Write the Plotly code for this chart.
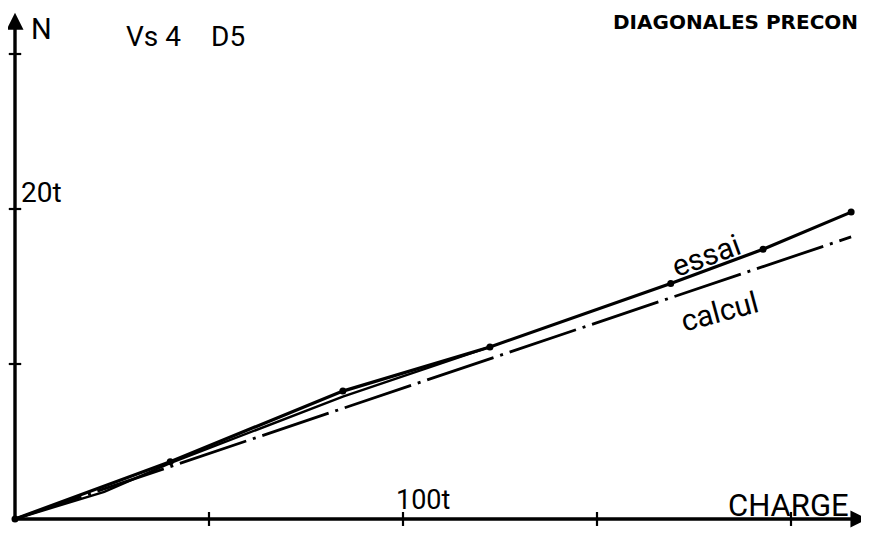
import plotly.graph_objects as go

# Data (charge in t, N in t)
essai_charge = [0, 40, 84.5, 122.4, 169, 192.8, 215.5]
essai_n = [0, 3.7, 8.25, 11.1, 15.2, 17.4, 19.8]
essai2_charge = [0, 23, 40, 84.5, 122.4]
essai2_n = [0, 1.75, 3.6, 7.9, 11.1]
calcul_charge = [0, 215.5]
calcul_n = [0, 18.2]
x_ticks = [50, 100, 150, 200]
y_ticks = [10, 20, 30]

# page body has an 8px margin: figure is drawn from window pixel (8, 8)
W, H = 861, 525
OFF = 8
X0_WIN, Y0_WIN = 15, 519          # origin in window pixels
PX_PER_T_X, PX_PER_T_Y = 3.88, 15.5
XMIN = -(X0_WIN - OFF) / PX_PER_T_X
XMAX = (W - (X0_WIN - OFF)) / PX_PER_T_X
YMAX = (Y0_WIN - OFF) / PX_PER_T_Y
YMIN = -(H - (Y0_WIN - OFF)) / PX_PER_T_Y
FONT = "Roboto, Liberation Sans, sans-serif"

fig = go.Figure()
fig.add_trace(go.Scatter(x=calcul_charge, y=calcul_n, mode="lines",
                         line=dict(color="black", width=2.8, dash="70px,7px,3px,7px"),
                         showlegend=False, hoverinfo="skip"))
fig.add_trace(go.Scatter(x=essai2_charge, y=essai2_n, mode="lines",
                         line=dict(color="black", width=2.4),
                         showlegend=False, hoverinfo="skip"))
fig.add_trace(go.Scatter(x=essai_charge, y=essai_n, mode="lines+markers",
                         line=dict(color="black", width=3.2),
                         marker=dict(color="black", size=7),
                         showlegend=False, hoverinfo="skip"))

shapes = []
for v in x_ticks:
    shapes.append(dict(type="line", xref="x", yref="y", x0=v, x1=v, y0=-0.45, y1=0.45,
                       line=dict(color="black", width=2.2)))
for v in y_ticks:
    shapes.append(dict(type="line", xref="x", yref="y", x0=-1.6, x1=1.6, y0=v, y1=v,
                       line=dict(color="black", width=2.2)))

annotations = [
    dict(x=0, y=YMAX - 0.3, ax=0, ay=0, xref="x", yref="y", axref="x", ayref="y",
         showarrow=True, arrowhead=2, arrowsize=1, arrowwidth=3.4, arrowcolor="black", text=""),
    dict(x=XMAX - 0.4, y=0, ax=0, ay=0, xref="x", yref="y", axref="x", ayref="y",
         showarrow=True, arrowhead=2, arrowsize=1, arrowwidth=3.4, arrowcolor="black", text=""),
]


def txt(s, px, py, size, angle=0, bold=False, xanchor="center", family=FONT, yanchor="middle"):
    return dict(x=(px - OFF) / W, y=1 - (py - OFF) / H, xref="paper", yref="paper",
                text=(f"<b>{s}</b>" if bold else s),
                showarrow=False, textangle=angle, xanchor=xanchor, yanchor=yanchor,
                font=dict(family=family, size=size, color="black"))


annotations += [
    txt("N", 41, 29, 29),
    txt("Vs 4", 153, 37, 28),
    txt("D5", 228, 37, 28),
    txt("DIAGONALES PRECON", 611, OFF, 20, bold=True, xanchor="left",
        family="DejaVu Sans, Liberation Sans", yanchor="top"),
    txt("20t", 41, 192, 28),
    txt("100t", 423, 500, 27),
    txt("CHARGE", 788, 505, 31),
    txt("essai", 706, 256, 30, angle=-20),
    txt("calcul", 719, 311, 30, angle=-15),
]

fig.update_layout(
    width=W, height=H,
    margin=dict(l=0, r=0, t=0, b=0),
    paper_bgcolor="white", plot_bgcolor="white",
    xaxis=dict(range=[XMIN, XMAX], visible=False, fixedrange=True),
    yaxis=dict(range=[YMIN, YMAX], visible=False, fixedrange=True),
    shapes=shapes, annotations=annotations,
)

fig.write_html("out.html")
